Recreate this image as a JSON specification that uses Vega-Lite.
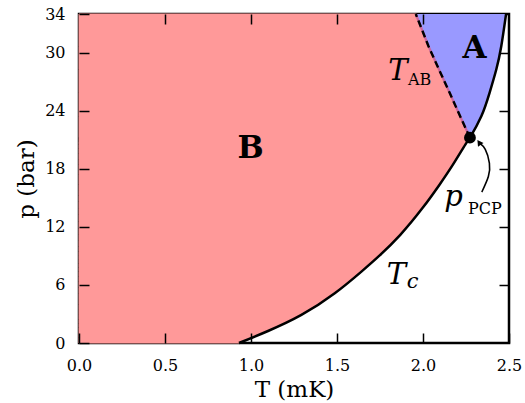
{
  "$schema": "https://vega.github.io/schema/vega-lite/v6.json",
  "width": 430,
  "height": 329,
  "autosize": {"type": "none"},
  "padding": {"left": 79, "top": 14, "right": 16, "bottom": 60},
  "background": "white",
  "config": {
    "view": {"stroke": "black", "strokeWidth": 2.5},
    "axis": {
      "domain": false, "grid": false, "labelFlush": false,
      "tickColor": "black", "tickWidth": 1.5, "tickSize": -10,
      "labelFont": "DejaVu Serif", "labelFontSize": 16, "labelColor": "black",
      "titleFont": "DejaVu Serif", "titleFontSize": 23, "titleFontWeight": "normal", "titleColor": "black"
    }
  },
  "datasets": {
    "tc": [
      {"p": 0, "t": 0.93},
      {"p": 1.24, "t": 1.099},
      {"p": 2.9, "t": 1.293},
      {"p": 5.14, "t": 1.487},
      {"p": 7.38, "t": 1.642},
      {"p": 9.0, "t": 1.745},
      {"p": 11.18, "t": 1.868},
      {"p": 13.94, "t": 1.997},
      {"p": 16.36, "t": 2.096},
      {"p": 18.43, "t": 2.174},
      {"p": 20.5, "t": 2.246},
      {"p": 21.22, "t": 2.273},
      {"p": 23.43, "t": 2.339},
      {"p": 25.85, "t": 2.387},
      {"p": 28.26, "t": 2.426},
      {"p": 30.67, "t": 2.455},
      {"p": 34, "t": 2.483}
    ],
    "ab": [
      {"p": 21.22, "tab": 2.273, "tc": 2.273},
      {"p": 23.43, "tab": 2.216, "tc": 2.339},
      {"p": 25.85, "tab": 2.155, "tc": 2.387},
      {"p": 28.26, "tab": 2.093, "tc": 2.426},
      {"p": 30.67, "tab": 2.032, "tc": 2.455},
      {"p": 34, "tab": 1.958, "tc": 2.483}
    ],
    "arrow": [
      {"i": 1, "t": 2.342, "p": 15.6},
      {"i": 2, "t": 2.38, "p": 17.2},
      {"i": 3, "t": 2.386, "p": 18.6},
      {"i": 4, "t": 2.362, "p": 20.0},
      {"i": 5, "t": 2.33, "p": 20.65}
    ]
  },
  "resolve": {"axis": {"x": "independent", "y": "independent"}},
  "layer": [
    {
      "data": {"name": "tc"},
      "transform": [{"filter": "datum.p <= 21.22"}],
      "mark": {"type": "area", "orient": "horizontal", "interpolate": "natural", "color": "#ff9999", "stroke": "#ff9999", "strokeWidth": 1},
      "encoding": {
        "y": {"field": "p", "type": "quantitative", "scale": {"domain": [0, 34], "nice": false, "zero": false},
              "axis": {"values": [0, 6, 12, 18, 24, 30, 34], "title": "p (bar)", "labelPadding": 24, "titlePadding": 6, "zindex": 2}},
        "x": {"field": "t", "type": "quantitative", "scale": {"domain": [0, 2.5], "nice": false, "zero": false},
              "axis": {"values": [0, 0.5, 1, 1.5, 2, 2.5], "format": ".1f", "title": "T (mK)", "labelPadding": 24, "titlePadding": 5, "zindex": 2}},
        "x2": {"datum": 0}
      }
    },
    {
      "data": {"name": "ab"},
      "mark": {"type": "area", "orient": "horizontal", "interpolate": "linear", "color": "#ff9999", "stroke": "#ff9999", "strokeWidth": 1},
      "encoding": {
        "y": {"field": "p", "type": "quantitative", "axis": null},
        "x": {"field": "tab", "type": "quantitative", "axis": null},
        "x2": {"datum": 0}
      }
    },
    {
      "data": {"name": "ab"},
      "mark": {"type": "area", "orient": "horizontal", "interpolate": "natural", "color": "#9999ff"},
      "encoding": {
        "y": {"field": "p", "type": "quantitative", "scale": {"domain": [0, 34], "nice": false, "zero": false},
              "axis": {"orient": "right", "values": [6, 12, 18, 24, 30], "labels": false, "title": null, "zindex": 2}},
        "x": {"field": "tab", "type": "quantitative", "scale": {"domain": [0, 2.5], "nice": false, "zero": false},
              "axis": {"orient": "top", "values": [0.5, 1, 1.5, 2], "labels": false, "title": null, "zindex": 2}},
        "x2": {"field": "tc"}
      }
    },
    {
      "data": {"name": "ab"},
      "mark": {"type": "line", "interpolate": "linear", "color": "#c8649e", "strokeWidth": 2.2},
      "encoding": {
        "x": {"field": "tab", "type": "quantitative", "axis": null},
        "y": {"field": "p", "type": "quantitative", "axis": null},
        "order": {"field": "p", "type": "quantitative"}
      }
    },
    {
      "data": {"name": "ab"},
      "mark": {"type": "line", "interpolate": "linear", "color": "black", "strokeWidth": 2.4, "strokeDash": [7, 4]},
      "encoding": {
        "x": {"field": "tab", "type": "quantitative", "axis": null},
        "y": {"field": "p", "type": "quantitative", "axis": null},
        "order": {"field": "p", "type": "quantitative"}
      }
    },
    {
      "data": {"name": "tc"},
      "mark": {"type": "line", "interpolate": "natural", "color": "black", "strokeWidth": 2.5},
      "encoding": {
        "x": {"field": "t", "type": "quantitative", "axis": null},
        "y": {"field": "p", "type": "quantitative", "axis": null},
        "order": {"field": "p", "type": "quantitative"}
      }
    },
    {
      "data": {"values": [{"t": 2.273, "p": 21.22}]},
      "mark": {"type": "point", "filled": true, "color": "black", "opacity": 1, "size": 140, "shape": "circle"},
      "encoding": {
        "x": {"field": "t", "type": "quantitative", "axis": null},
        "y": {"field": "p", "type": "quantitative", "axis": null}
      }
    },
    {
      "data": {"name": "arrow"},
      "mark": {"type": "line", "interpolate": "natural", "color": "black", "strokeWidth": 1.6},
      "encoding": {
        "x": {"field": "t", "type": "quantitative", "axis": null},
        "y": {"field": "p", "type": "quantitative", "axis": null},
        "order": {"field": "i", "type": "quantitative"}
      }
    },
    {
      "data": {"values": [{"t": 2.326, "p": 20.72}]},
      "mark": {"type": "point", "filled": true, "color": "black", "opacity": 1, "size": 45, "shape": "triangle-up", "angle": -35},
      "encoding": {
        "x": {"field": "t", "type": "quantitative", "axis": null},
        "y": {"field": "p", "type": "quantitative", "axis": null}
      }
    },
    {
      "data": {"values": [{"t": 0.998, "p": 19.12, "label": "B"}, {"t": 2.3, "p": 29.47, "label": "A"}]},
      "mark": {"type": "text", "font": "DejaVu Serif", "fontWeight": "bold", "fontSize": 31, "align": "center", "baseline": "alphabetic", "color": "black"},
      "encoding": {
        "x": {"field": "t", "type": "quantitative", "axis": null},
        "y": {"field": "p", "type": "quantitative", "axis": null},
        "text": {"field": "label"}
      }
    },
    {
      "data": {"values": [{"t": 1.854, "p": 27.23, "label": "T"}, {"t": 1.845, "p": 6.1, "label": "T"}, {"t": 2.178, "p": 14.18, "label": "p"}]},
      "mark": {"type": "text", "font": "DejaVu Serif", "fontStyle": "italic", "fontSize": 29, "align": "center", "baseline": "alphabetic", "color": "black"},
      "encoding": {
        "x": {"field": "t", "type": "quantitative", "axis": null},
        "y": {"field": "p", "type": "quantitative", "axis": null},
        "text": {"field": "label"}
      }
    },
    {
      "data": {"values": [{"t": 1.94, "p": 5.66, "label": "c"}]},
      "mark": {"type": "text", "font": "DejaVu Serif", "fontStyle": "italic", "fontSize": 21, "align": "center", "baseline": "alphabetic", "color": "black"},
      "encoding": {
        "x": {"field": "t", "type": "quantitative", "axis": null},
        "y": {"field": "p", "type": "quantitative", "axis": null},
        "text": {"field": "label"}
      }
    },
    {
      "data": {"values": [{"t": 1.98, "p": 26.71, "label": "AB"}, {"t": 2.36, "p": 13.35, "label": "PCP"}]},
      "mark": {"type": "text", "font": "DejaVu Serif", "fontSize": 16, "align": "center", "baseline": "alphabetic", "color": "black"},
      "encoding": {
        "x": {"field": "t", "type": "quantitative", "axis": null},
        "y": {"field": "p", "type": "quantitative", "axis": null},
        "text": {"field": "label"}
      }
    }
  ]
}
